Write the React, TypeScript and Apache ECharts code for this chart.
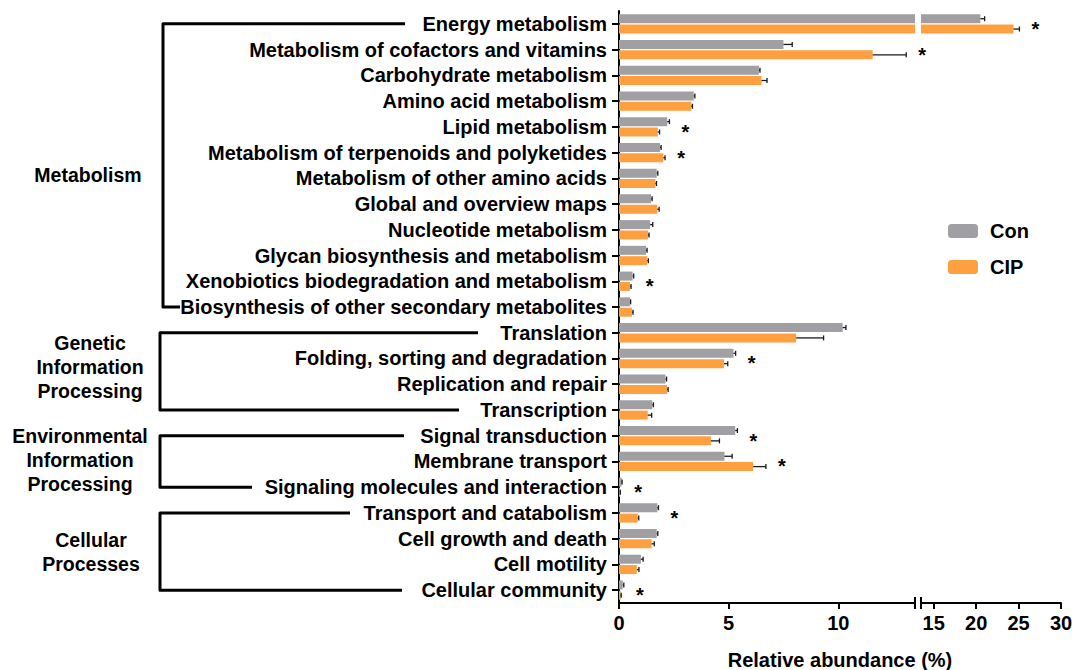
import React, { useEffect, useRef } from 'react';
import * as echarts from 'echarts';

const categories = [
  'Energy metabolism',
  'Metabolism of cofactors and vitamins',
  'Carbohydrate metabolism',
  'Amino acid metabolism',
  'Lipid metabolism',
  'Metabolism of terpenoids and polyketides',
  'Metabolism of other amino acids',
  'Global and overview maps',
  'Nucleotide metabolism',
  'Glycan biosynthesis and metabolism',
  'Xenobiotics biodegradation and metabolism',
  'Biosynthesis of other secondary metabolites',
  'Translation',
  'Folding, sorting and degradation',
  'Replication and repair',
  'Transcription',
  'Signal transduction',
  'Membrane transport',
  'Signaling molecules and interaction',
  'Transport and catabolism',
  'Cell growth and death',
  'Cell motility',
  'Cellular community',
];

const conMean = [20.5, 7.5, 6.38, 3.41, 2.2, 1.87, 1.72, 1.46, 1.42, 1.23, 0.62, 0.5, 10.2, 5.22, 2.12, 1.52, 5.3, 4.81, 0.12, 1.75, 1.72, 1.0, 0.17];
const conErr = [0.5, 0.4, 0.05, 0.05, 0.1, 0.05, 0.05, 0.05, 0.12, 0.05, 0.05, 0.03, 0.15, 0.1, 0.05, 0.05, 0.1, 0.35, 0.02, 0.05, 0.05, 0.1, 0.05];
const cipMean = [24.4, 11.57, 6.5, 3.3, 1.77, 2.02, 1.66, 1.75, 1.32, 1.29, 0.5, 0.59, 8.08, 4.79, 2.19, 1.31, 4.19, 6.12, 0.05, 0.85, 1.49, 0.81, 0.08];
const cipErr = [0.7, 1.53, 0.25, 0.05, 0.08, 0.08, 0.05, 0.08, 0.05, 0.05, 0.05, 0.05, 1.25, 0.17, 0.05, 0.18, 0.39, 0.58, 0.01, 0.05, 0.12, 0.1, 0.02];
const significant = [true, true, false, false, true, true, false, false, false, false, true, false, false, true, false, false, true, true, true, true, false, false, true];

const seriesNames = ['Con', 'CIP'];
const leftTicks = [0, 5, 10];
const rightTicks = [15, 20, 25, 30];
const BREAK = 13.5;
const AXIS_MAX = 30;
const axisTitle = 'Relative abundance (%)';

const groupLabels = ['Metabolism', 'Genetic\nInformation\nProcessing', 'Environmental\nInformation\nProcessing', 'Cellular\nProcesses'];
const groupFirst = [0, 12, 16, 19];
const groupLast = [11, 15, 18, 22];

// layout (pixels)
const GRID_TOP = 11;
const GRID_H = 592;
const G1_LEFT = 619;
const G1_W = 296;
const G2_LEFT = 921;
const G2_W = 140;
const BAR_W = 9;
const BAR_GAP_PX = 1.35;
const FONT = "'Liberation Sans', Arial, Helvetica, sans-serif";
const FS = 20;
const GFS = 19.5;
const bracketX = [163, 160, 160, 160];
const bracketTopEnd = [405, 478, 404, 350];
const bracketBotEnd = [180, 459, 252, 402];
const labelX = [88, 90, 80, 91];
const labelY = [175, 367, 460, 552];

const GRAY = '#a09fa4';
const ORANGE = '#ffa040';

function errRender(offset: number) {
  return (params: any, api: any) => {
    const mean = api.value(0);
    const cat = api.value(1);
    const err = api.value(2);
    const p0 = api.coord([mean, cat]);
    const p1 = api.coord([mean + err, cat]);
    const y = p0[1] + offset;
    return {
      type: 'group',
      children: [
        { type: 'line', shape: { x1: p0[0], y1: y, x2: p1[0], y2: y }, style: { stroke: '#1a1a1a', lineWidth: 1.3 } },
        { type: 'line', shape: { x1: p1[0], y1: y - 2.5, x2: p1[0], y2: y + 2.5 }, style: { stroke: '#1a1a1a', lineWidth: 1.3 } },
      ],
    };
  };
}

function starRender(params: any, api: any) {
  const p = api.coord([api.value(0), api.value(1)]);
  return {
    type: 'text',
    x: p[0] + 16,
    y: p[1] + 5,
    style: { text: '*', fontSize: 20, fontWeight: 'bold', fontFamily: FONT, fill: '#000', textAlign: 'center', textVerticalAlign: 'middle' },
  };
}

export default function App() {
  const ref = useRef<HTMLDivElement>(null);
  useEffect(() => {
    if (!ref.current) return;
    const chart = echarts.init(ref.current, undefined, { renderer: 'svg' });

    const means = [conMean, cipMean];
    const errs = [conErr, cipErr];
    const colors = [GRAY, ORANGE];
    const offsets = [-(BAR_W + BAR_GAP_PX) / 2, (BAR_W + BAR_GAP_PX) / 2];

    const series: any[] = [];
    for (let s = 0; s < 2; s++) {
      series.push({
        name: seriesNames[s], type: 'bar', xAxisIndex: 0, yAxisIndex: 0,
        data: means[s], barWidth: BAR_W, barGap: '15%', itemStyle: { color: colors[s] }, clip: true,
      });
      series.push({
        name: seriesNames[s], type: 'bar', xAxisIndex: 1, yAxisIndex: 1,
        data: means[s].map((v) => (v > BREAK ? v : '-')), barWidth: BAR_W, barGap: '15%', itemStyle: { color: colors[s] }, clip: true,
      });
    }
    for (let s = 0; s < 2; s++) {
      const d1: any[] = [];
      const d2: any[] = [];
      means[s].forEach((v, i) => {
        (v > BREAK ? d2 : d1).push([v, i, errs[s][i]]);
      });
      series.push({ name: 'err' + s, type: 'custom', xAxisIndex: 0, yAxisIndex: 0, data: d1, renderItem: errRender(offsets[s]), encode: { x: 0, y: 1 }, z: 5 });
      series.push({ name: 'err' + s + 'b', type: 'custom', xAxisIndex: 1, yAxisIndex: 1, data: d2, renderItem: errRender(offsets[s]), encode: { x: 0, y: 1 }, z: 5 });
    }
    const s1: any[] = [];
    const s2: any[] = [];
    significant.forEach((sig, i) => {
      if (!sig) return;
      const end = Math.max(conMean[i] + conErr[i], cipMean[i] + cipErr[i]);
      (end > BREAK ? s2 : s1).push([end, i]);
    });
    series.push({ name: 'sig1', type: 'custom', xAxisIndex: 0, yAxisIndex: 0, data: s1, renderItem: starRender, encode: { x: 0, y: 1 }, clip: false, z: 6 });
    series.push({ name: 'sig2', type: 'custom', xAxisIndex: 1, yAxisIndex: 1, data: s2, renderItem: starRender, encode: { x: 0, y: 1 }, clip: false, z: 6 });

    const axisText = { fontSize: FS, fontWeight: 'bold', color: '#000', fontFamily: FONT };

    chart.setOption({
      animation: false,
      textStyle: { fontFamily: FONT },
      grid: [
        { left: G1_LEFT, top: GRID_TOP, width: G1_W, height: GRID_H, outerBoundsMode: 'none', containLabel: false },
        { left: G2_LEFT, top: GRID_TOP, width: G2_W, height: GRID_H, outerBoundsMode: 'none', containLabel: false },
      ],
      legend: {
        data: seriesNames, orient: 'vertical', left: 943, top: 216, itemWidth: 30, itemHeight: 14, itemGap: 16,
        icon: 'roundRect', textStyle: { ...axisText, padding: [0, 0, 0, 7] },
      },
      xAxis: [
        {
          type: 'value', gridIndex: 0, min: 0, max: BREAK,
          axisLine: { show: true, lineStyle: { color: '#000', width: 2 } },
          axisTick: { show: true, length: 6, lineStyle: { color: '#000', width: 2 }, customValues: leftTicks },
          axisLabel: { ...axisText, margin: 10, customValues: leftTicks },
          splitLine: { show: false },
        },
        {
          type: 'value', gridIndex: 1, min: BREAK, max: AXIS_MAX,
          axisLine: { show: true, lineStyle: { color: '#000', width: 2 } },
          axisTick: { show: true, length: 6, lineStyle: { color: '#000', width: 2 }, customValues: rightTicks },
          axisLabel: { ...axisText, margin: 10, customValues: rightTicks },
          splitLine: { show: false },
        },
      ],
      yAxis: [
        {
          type: 'category', gridIndex: 0, data: categories, inverse: true,
          axisLine: { show: true, lineStyle: { color: '#000', width: 2 } },
          axisTick: { show: true, alignWithLabel: true, interval: 0, length: 7, lineStyle: { color: '#000', width: 2 } },
          axisLabel: { ...axisText, margin: 12, interval: 0, hideOverlap: false },
        },
        { type: 'category', gridIndex: 1, data: categories, inverse: true, show: false },
      ],
      series,
    });

    const graphic: any[] = [];
    for (let g = 0; g < groupLabels.length; g++) {
      const yTop = chart.convertToPixel({ yAxisIndex: 0 }, categories[groupFirst[g]]) as number;
      const yBot = chart.convertToPixel({ yAxisIndex: 0 }, categories[groupLast[g]]) as number;
      graphic.push({
        type: 'polyline',
        shape: { points: [[bracketTopEnd[g], yTop], [bracketX[g], yTop], [bracketX[g], yBot], [bracketBotEnd[g], yBot]] },
        style: { stroke: '#000', lineWidth: 3, fill: null, lineJoin: 'round' },
      });
      graphic.push({
        type: 'text', x: labelX[g], y: labelY[g],
        style: { text: groupLabels[g], fontSize: GFS, fontWeight: 'bold', fontFamily: FONT, fill: '#000', textAlign: 'center', textVerticalAlign: 'middle', lineHeight: 24 },
      });
    }
    const axisY = GRID_TOP + GRID_H;
    const xb1 = chart.convertToPixel({ xAxisIndex: 0 }, BREAK) as number;
    const xb2 = chart.convertToPixel({ xAxisIndex: 1 }, BREAK) as number;
    [xb1, xb2].forEach((x) => {
      graphic.push({ type: 'line', shape: { x1: x, y1: axisY - 6, x2: x, y2: axisY + 6 }, style: { stroke: '#000', lineWidth: 2 } });
    });
    graphic.push({
      type: 'text', x: (G1_LEFT + G2_LEFT + G2_W) / 2, y: 660,
      style: { text: axisTitle, fontSize: FS, fontWeight: 'bold', fontFamily: FONT, fill: '#000', textAlign: 'center', textVerticalAlign: 'middle' },
    });
    chart.setOption({ graphic });

    return () => chart.dispose();
  }, []);
  return <div ref={ref} style={{ position: 'absolute', left: 0, top: 0, width: 1072, height: 670, background: '#fff' }} />;
}
